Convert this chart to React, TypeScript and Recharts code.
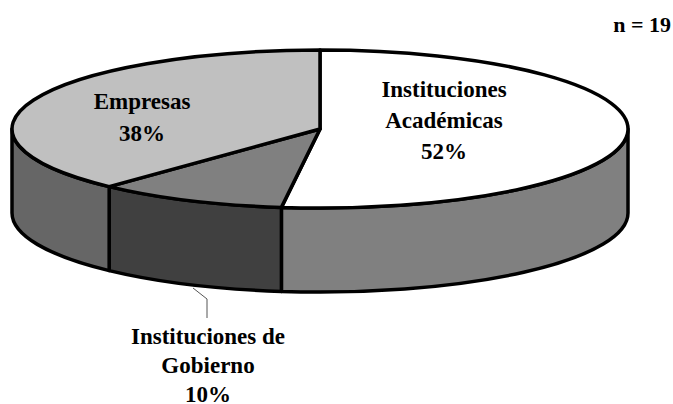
import { PieChart, Pie, Cell } from "recharts"

const categories = ["Instituciones Académicas", "Instituciones de Gobierno", "Empresas"]
const shares = [52, 10, 38]
const labelLines = [["Instituciones", "Académicas"], ["Instituciones de", "Gobierno"], ["Empresas"]]
const topColors = ["#FFFFFF", "#808080", "#C0C0C0"]
const wallColors = ["#808080", "#404040", "#666666"]

const sampleNote = "n = 19"

const data = categories.map((name, i) => ({ name, value: shares[i] }))

const WIDTH = 673
const HEIGHT = 404
const CX = 320
const CY = 129
const RX = 308
const SQUASH = 79 / 308
const DEPTH = 84
const FONT = "'Liberation Serif', serif"

// where each slice's label block starts (first baseline) and its line step
const labelSpots = [
  { x: 444, y: 97, step: 31 },
  { x: 208, y: 344, step: 29 },
  { x: 142, y: 109, step: 32 },
]

const RAD = Math.PI / 180

function point(cx: number, cy: number, r: number, deg: number) {
  return [cx + r * Math.cos(deg * RAD), cy - r * SQUASH * Math.sin(deg * RAD)]
}

// pie slices squashed into an ellipse, angles come from the Pie itself
function TopSlice(props: any) {
  const { cx, cy, outerRadius: r, startAngle, endAngle, fill } = props
  const [x0, y0] = point(cx, cy, r, startAngle)
  const [x1, y1] = point(cx, cy, r, endAngle)
  const large = Math.abs(startAngle - endAngle) > 180 ? 1 : 0
  const d = `M ${cx} ${cy} L ${x0} ${y0} A ${r} ${r * SQUASH} 0 ${large} 1 ${x1} ${y1} Z`
  return <path d={d} fill={fill} stroke="#000" strokeWidth={3.5} strokeLinejoin="round" />
}

// side wall, only the part of the slice on the front half of the ellipse
function WallSlice(props: any) {
  const { cx, cy, outerRadius: r, startAngle, endAngle, fill } = props
  const hi = Math.min(startAngle, 0)
  const lo = Math.max(endAngle, -180)
  if (hi <= lo) return null
  const [x0, y0] = point(cx, cy, r, hi)
  const [x1, y1] = point(cx, cy, r, lo)
  const ry = r * SQUASH
  const d = `M ${x0} ${y0} A ${r} ${ry} 0 0 1 ${x1} ${y1} L ${x1} ${y1 + DEPTH} A ${r} ${ry} 0 0 0 ${x0} ${y0 + DEPTH} Z`
  return <path d={d} fill={fill} stroke="#000" strokeWidth={3.5} strokeLinejoin="round" />
}

function SliceLabel(props: any) {
  const { index } = props
  const { x, y, step } = labelSpots[index]
  const lines = [...labelLines[index], `${shares[index]}%`]
  return (
    <text x={x} y={y} textAnchor="middle" fontFamily={FONT} fontWeight="bold" fontSize={23} fill="#000">
      {lines.map((line, i) => (
        <tspan key={line} x={x} dy={i === 0 ? 0 : step}>
          {line}
        </tspan>
      ))}
    </text>
  )
}

export default function App() {
  return (
    <div style={{ position: "absolute", left: 0, top: 0, width: WIDTH, height: HEIGHT, background: "#fff" }}>
      <PieChart width={WIDTH} height={HEIGHT} margin={{ top: 0, right: 0, bottom: 0, left: 0 }}>
        <Pie
          data={data}
          dataKey="value"
          cx={CX}
          cy={CY}
          outerRadius={RX}
          startAngle={90}
          endAngle={-270}
          paddingAngle={0}
          shape={WallSlice}
          isAnimationActive={false}
        >
          {data.map((d, i) => (
            <Cell key={d.name} fill={wallColors[i]} />
          ))}
        </Pie>
        <Pie
          data={data}
          dataKey="value"
          cx={CX}
          cy={CY}
          outerRadius={RX}
          startAngle={90}
          endAngle={-270}
          paddingAngle={0}
          shape={TopSlice}
          label={SliceLabel}
          labelLine={false}
          isAnimationActive={false}
        >
          {data.map((d, i) => (
            <Cell key={d.name} fill={topColors[i]} />
          ))}
        </Pie>
        <polyline points="193,288 207,299 207,318" fill="none" stroke="#555" strokeWidth={1} />
        <text x={671} y={32} textAnchor="end" fontFamily={FONT} fontWeight="bold" fontSize={22} fill="#000">
          {sampleNote}
        </text>
      </PieChart>
    </div>
  )
}
